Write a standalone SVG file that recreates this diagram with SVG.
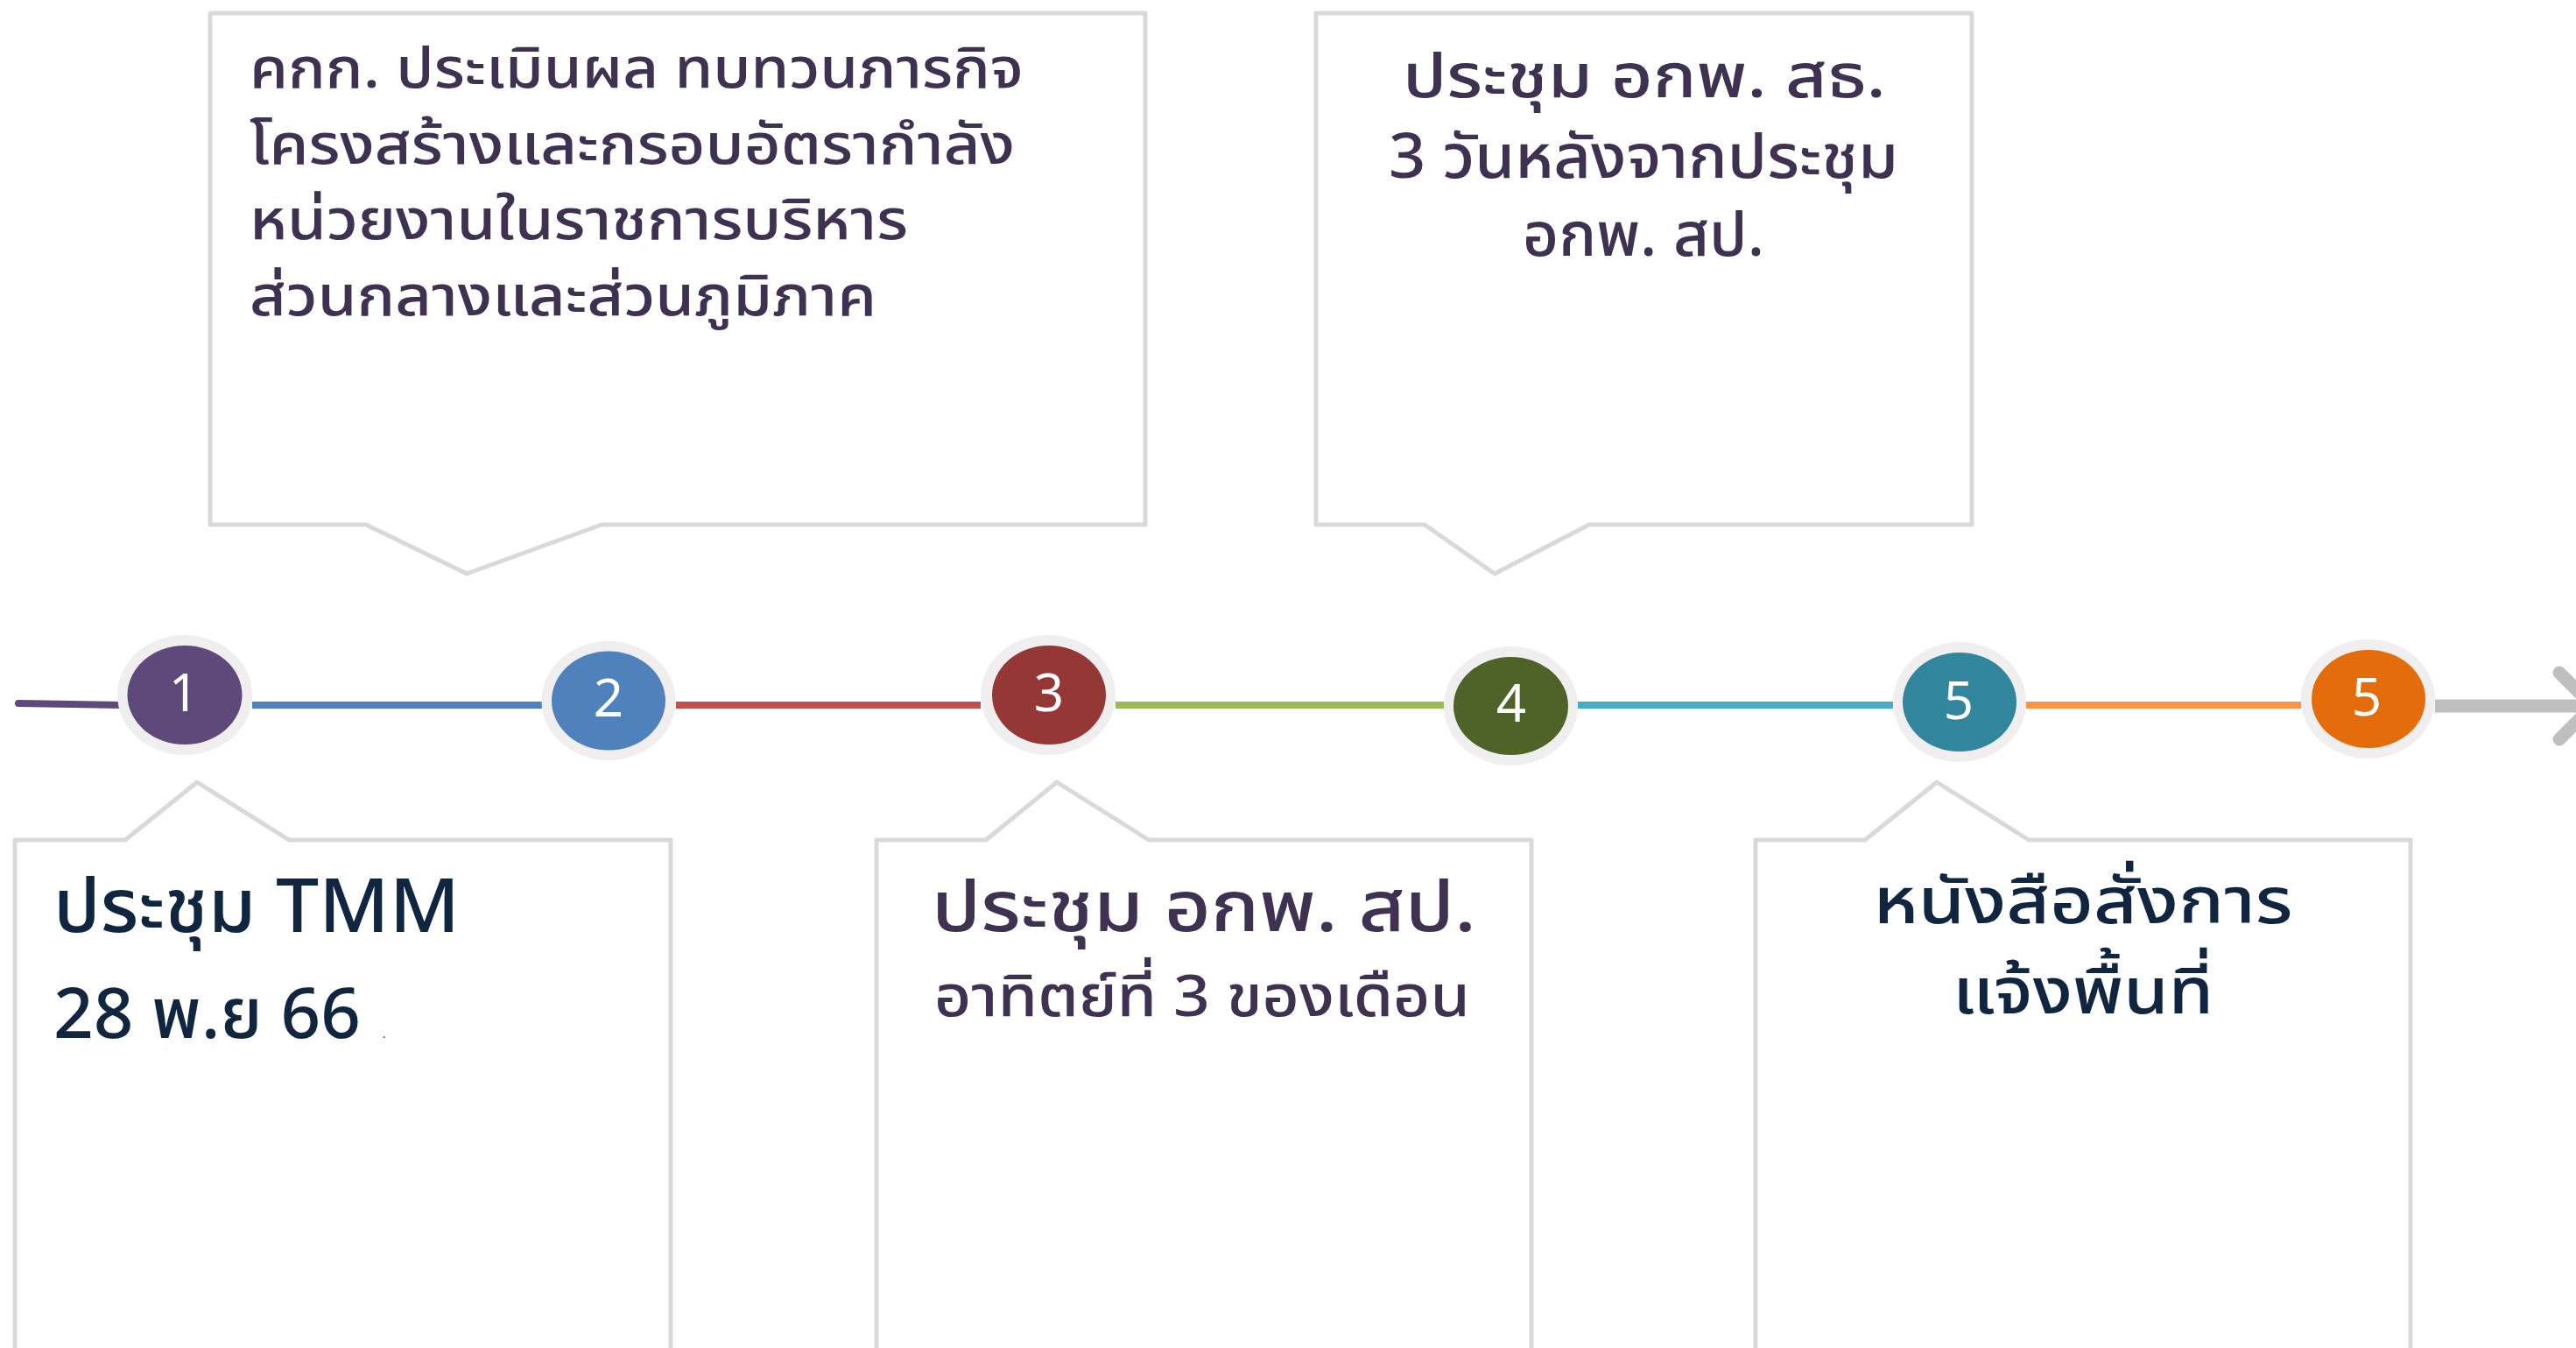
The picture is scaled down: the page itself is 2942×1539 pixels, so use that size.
<svg xmlns="http://www.w3.org/2000/svg" width="2942" height="1539" viewBox="0 0 2942 1539">
<defs>
<style>
.box{fill:#FFFFFF;stroke:#D9D9D9;stroke-width:5;stroke-linejoin:round}
.ring{fill:#F0EEEF}
.num{font-family:"Noto Sans","Open Sans","DejaVu Sans",sans-serif;font-size:60px;fill:#FFFFFF;text-anchor:middle}
.th{font-family:"Noto Sans Thai","Noto Sans","DejaVu Sans",sans-serif;font-weight:500}
.pu{fill:#3F3151}
.nv{fill:#10253F}
.seg{stroke-width:8;fill:none}
</style>
<marker id="chev" markerUnits="userSpaceOnUse" markerWidth="80" markerHeight="120" viewBox="-60 -60 80 120" refX="0" refY="0" orient="auto">
<path d="M-38,-38 L0,0 L-38,38" fill="none" stroke="#BFBFBF" stroke-width="15" stroke-linecap="round" stroke-linejoin="round"/>
</marker>
</defs>
<rect width="2942" height="1539" fill="#FFFFFF"/>

<g id="connectors">
<path d="M21,803 L140,805" stroke="#5F497A" stroke-width="8" stroke-linecap="round" fill="none"/>
<line class="seg" x1="288" y1="805" x2="619" y2="805" stroke="#4F81BD"/>
<line class="seg" x1="772" y1="805" x2="1120" y2="805" stroke="#C0504D"/>
<line class="seg" x1="1274" y1="805" x2="1649" y2="805" stroke="#9BBB59"/>
<line class="seg" x1="1802" y1="805" x2="2162" y2="805" stroke="#4BACC6"/>
<line class="seg" x1="2314" y1="805" x2="2628" y2="805" stroke="#F79646"/>
<line x1="2781" y1="806" x2="2961" y2="806" stroke="#BFBFBF" stroke-width="15" marker-end="url(#chev)"/>
</g>

<g id="node1">
<ellipse class="ring" cx="211" cy="793.5" rx="77" ry="68.5"/>
<ellipse cx="211" cy="793.5" rx="65.5" ry="56.5" fill="#5F497A"/>
<text class="num" x="210" y="812">1</text>
</g>
<g id="node2">
<ellipse class="ring" cx="695" cy="800" rx="76.5" ry="68"/>
<ellipse cx="695" cy="800" rx="65" ry="56.5" fill="#4F81BD"/>
<text class="num" x="695" y="818">2</text>
</g>
<g id="node3">
<ellipse class="ring" cx="1197" cy="793.5" rx="77" ry="68.5"/>
<ellipse cx="1198" cy="793.5" rx="65" ry="56.5" fill="#953735"/>
<text class="num" x="1198" y="812">3</text>
</g>
<g id="node4">
<ellipse class="ring" cx="1725.5" cy="806" rx="76.5" ry="68"/>
<ellipse cx="1725.5" cy="806" rx="65.5" ry="56" fill="#4F6228"/>
<text class="num" x="1726" y="824">4</text>
</g>
<g id="node5a">
<ellipse class="ring" cx="2238" cy="801.5" rx="76" ry="68.5"/>
<ellipse cx="2238" cy="801.5" rx="65" ry="56.5" fill="#31859C"/>
<text class="num" x="2237" y="821">5</text>
</g>
<g id="node5b">
<ellipse class="ring" cx="2704.5" cy="798" rx="76.5" ry="68"/>
<ellipse cx="2705" cy="798" rx="65" ry="56" fill="#E46C0A"/>
<text class="num" x="2703" y="817">5</text>
</g>

<g id="callout-top-1">
<path class="box" d="M240,15 H1308 V599 H687 L533,655 L418,599 H240 Z"/>
<text class="th pu" font-size="64" x="285" y="100" textLength="884" lengthAdjust="spacingAndGlyphs">คกก. ประเมินผล ทบทวนภารกิจ</text>
<text class="th pu" font-size="64" x="285" y="187" textLength="874" lengthAdjust="spacingAndGlyphs">โครงสร้างและกรอบอัตรากำลัง</text>
<text class="th pu" font-size="64" x="285" y="273" textLength="752" lengthAdjust="spacingAndGlyphs">หน่วยงานในราชการบริหาร</text>
<text class="th pu" font-size="64" x="285" y="360" textLength="716" lengthAdjust="spacingAndGlyphs">ส่วนกลางและส่วนภูมิภาค</text>
</g>

<g id="callout-top-2">
<path class="box" d="M1503,15 H2252 V599 H1815 L1707,655 L1627,599 H1503 Z"/>
<text class="th pu" font-size="70" x="1878" y="111" text-anchor="middle" textLength="552" lengthAdjust="spacingAndGlyphs">ประชุม อกพ. สธ.</text>
<text class="th pu" font-size="70" x="1877" y="203" text-anchor="middle" textLength="582" lengthAdjust="spacingAndGlyphs">3 วันหลังจากประชุม</text>
<text class="th pu" font-size="70" x="1877" y="292" text-anchor="middle" textLength="276" lengthAdjust="spacingAndGlyphs">อกพ. สป.</text>
</g>

<g id="callout-bottom-1">
<path class="box" d="M17,1580 V959 H143 L225,893 L330,959 H766 V1580 Z"/>
<text class="th nv" font-size="86" x="61" y="1064" textLength="464" lengthAdjust="spacingAndGlyphs">ประชุม TMM</text>
<text class="th nv" font-size="80" x="61" y="1185" textLength="351" lengthAdjust="spacingAndGlyphs">28 พ.ย 66</text>
<text class="th nv" font-size="12" x="437" y="1185">.</text>
</g>

<g id="callout-bottom-2">
<path class="box" d="M1001,1580 V959 H1126 L1207,893 L1312,959 H1749 V1580 Z"/>
<text class="th pu" font-size="80" x="1375" y="1063" text-anchor="middle" textLength="622" lengthAdjust="spacingAndGlyphs">ประชุม อกพ. สป.</text>
<text class="th pu" font-size="66" x="1373" y="1160" text-anchor="middle" textLength="612" lengthAdjust="spacingAndGlyphs">อาทิตย์ที่ 3 ของเดือน</text>
</g>

<g id="callout-bottom-3">
<path class="box" d="M2005,1580 V959 H2130 L2212,893 L2317,959 H2753 V1580 Z"/>
<text class="th nv" font-size="74" x="2379" y="1054" text-anchor="middle" textLength="479" lengthAdjust="spacingAndGlyphs">หนังสือสั่งการ</text>
<text class="th nv" font-size="74" x="2379" y="1157" text-anchor="middle" textLength="298" lengthAdjust="spacingAndGlyphs">แจ้งพื้นที่</text>
</g>
</svg>
